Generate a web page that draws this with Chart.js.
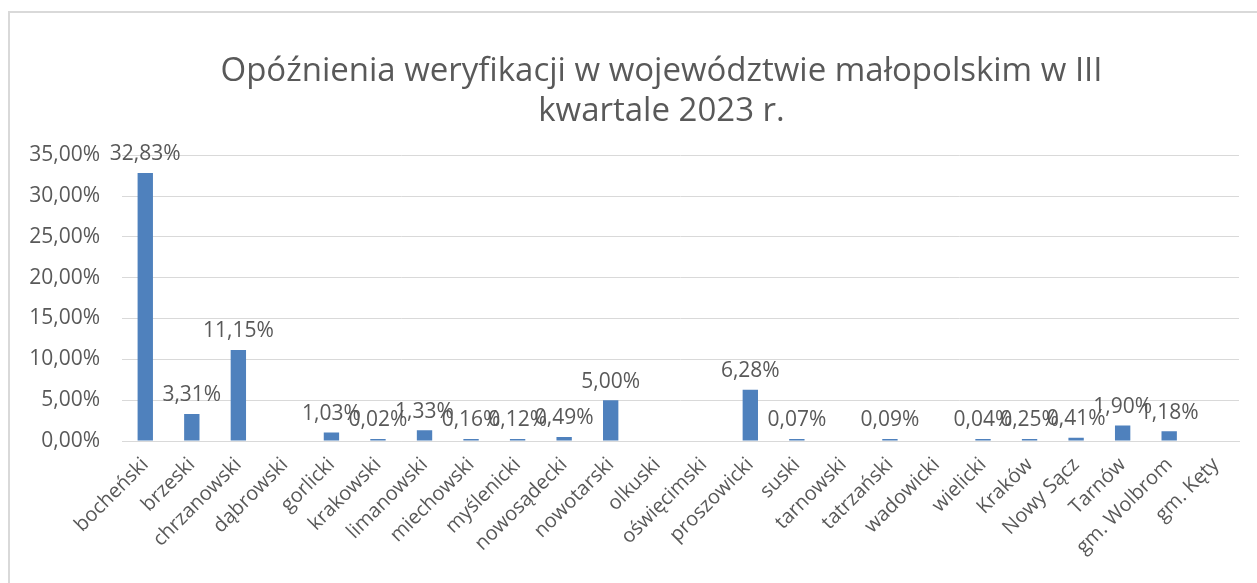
<!DOCTYPE html>
<html lang="pl">
<head>
    <meta charset="UTF-8">
    <title>Opóźnienia weryfikacji</title>
    <script src="https://cdn.jsdelivr.net/npm/chart.js"></script>
    <style>
        html, body {
            margin: 0;
            padding: 0;
            background: white;
            overflow: hidden;
        }
        .frame {
            position: absolute;
            left: 8px;
            top: 11px;
            width: 1400px;
            height: 700px;
            border-left: 2px solid #d9d9d9;
            border-top: 2px solid #d9d9d9;
        }
        .chart-container {
            position: absolute;
            left: 0;
            top: 0;
            width: 1257px;
            height: 583px;
        }
    </style>
</head>
<body>
    <div class="frame"></div>
    <div class="chart-container">
        <canvas id="delayChart"></canvas>
    </div>

    <script>
        const titleLines = ['Opóźnienia weryfikacji w województwie małopolskim w III', 'kwartale 2023 r.'];

        const categories = [
            'bocheński', 'brzeski', 'chrzanowski', 'dąbrowski', 'gorlicki', 'krakowski',
            'limanowski', 'miechowski', 'myślenicki', 'nowosądecki', 'nowotarski', 'olkuski',
            'oświęcimski', 'proszowicki', 'suski', 'tarnowski', 'tatrzański', 'wadowicki',
            'wielicki', 'Kraków', 'Nowy Sącz', 'Tarnów', 'gm. Wolbrom', 'gm. Kęty'
        ];

        // opóźnienia w %
        const delays = [
            32.83, 3.31, 11.15, null, 1.03, 0.02,
            1.33, 0.16, 0.12, 0.49, 5.00, null,
            null, 6.28, 0.07, null, 0.09, null,
            0.04, 0.25, 0.41, 1.90, 1.18, null
        ];

        const yTicks = [0, 5, 10, 15, 20, 25, 30, 35];

        const fontFamily = '"Open Sans", Lato, sans-serif';
        const textColor = '#595959';

        const fmtPct = v => v.toFixed(2).replace('.', ',') + '%';

        // etykiety danych nad słupkami
        const valueLabels = {
            id: 'valueLabels',
            afterDatasetsDraw(chart) {
                const ctx = chart.ctx;
                const meta = chart.getDatasetMeta(0);
                ctx.save();
                ctx.font = '21px ' + fontFamily;
                ctx.fillStyle = textColor;
                ctx.textAlign = 'center';
                ctx.textBaseline = 'bottom';
                meta.data.forEach((bar, i) => {
                    const v = chart.data.datasets[0].data[i];
                    if (v === null) return;
                    ctx.fillText(fmtPct(v), bar.x, bar.y - 8);
                });
                ctx.restore();
            }
        };

        // tytuł przesunięty w prawo, jak w oryginale
        const shiftTitle = {
            id: 'shiftTitle',
            afterLayout(chart) {
                if (chart.titleBlock) {
                    chart.titleBlock.left += 66;
                }
            }
        };

        const ctx = document.getElementById('delayChart').getContext('2d');
        new Chart(ctx, {
            type: 'bar',
            data: {
                labels: categories,
                datasets: [{
                    data: delays,
                    backgroundColor: '#4f81bd',
                    borderWidth: 0,
                    minBarLength: 2,
                    barPercentage: 0.33,
                    categoryPercentage: 1.0
                }]
            },
            options: {
                responsive: true,
                maintainAspectRatio: false,
                animation: false,
                layout: {
                    padding: { left: 18, right: 18, top: 20, bottom: 5 }
                },
                scales: {
                    x: {
                        grid: { display: false },
                        border: { color: '#d9d9d9' },
                        afterFit: axis => {
                            axis.height = 137;
                        },
                        ticks: {
                            autoSkip: false,
                            maxRotation: 45,
                            minRotation: 45,
                            color: textColor,
                            font: { family: fontFamily, size: 20 },
                            padding: 4
                        }
                    },
                    y: {
                        min: 0,
                        max: 35,
                        afterBuildTicks: axis => {
                            axis.ticks = yTicks.map(v => ({ value: v }));
                        },
                        afterFit: axis => {
                            axis.width = 104;
                        },
                        grid: {
                            color: '#d9d9d9',
                            drawTicks: false
                        },
                        border: { display: false },
                        ticks: {
                            color: textColor,
                            font: { family: fontFamily, size: 21 },
                            padding: 22,
                            callback: v => fmtPct(v)
                        }
                    }
                },
                plugins: {
                    legend: { display: false },
                    tooltip: { enabled: false },
                    title: {
                        display: true,
                        text: titleLines,
                        color: textColor,
                        font: { family: fontFamily, size: 33, weight: 'normal', lineHeight: 1.2 },
                        padding: { top: 32, bottom: 24 }
                    }
                }
            },
            plugins: [valueLabels, shiftTitle]
        });
    </script>
</body>
</html>
